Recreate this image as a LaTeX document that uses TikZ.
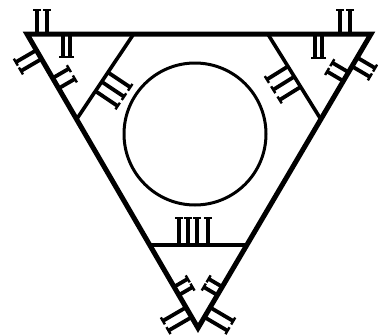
\documentclass[tikz,border=0pt]{standalone}
\usepackage{tikz}
\usetikzlibrary{calc,arrows.meta}

% a row of wedge strokes standing on the line from #1 to #2
\newcommand{\wedgerow}[5]{%
  \foreach \f in {#3}{%
    \coordinate (w) at ($(#1)!\f!(#2)$);
    \draw[wedge] (w) -- ($(w)!#5!#4:(#2)$);
  }}

\begin{document}
\begin{tikzpicture}[x=1pt, y=-1pt,
    rim/.style={line width=5pt, line join=miter},
    cut/.style={line width=3.6pt},
    wedge/.style={line width=3.8pt, -{Bar[width=8pt, line width=2.4pt]}}
]
\useasboundingbox (0,0) rectangle (378,335);

\coordinate (A) at (27,34);
\coordinate (B) at (371,34);
\coordinate (C) at (198,328);

\coordinate (P1) at ($(A)!0.31!(B)$);
\coordinate (Q1) at ($(A)!0.29!(C)$);
\coordinate (P2) at ($(B)!0.30!(A)$);
\coordinate (Q2) at ($(B)!0.29!(C)$);
\coordinate (R1) at ($(A)!0.718!(C)$);
\coordinate (R2) at ($(B)!0.718!(C)$);

\draw[rim] (A) -- (B) -- (C) -- cycle;
\draw[cut] (P1) -- (Q1);
\draw[cut] (P2) -- (Q2);
\draw[cut] (R1) -- (R2);
\draw[line width=3pt] (195,134) circle[radius=71];

% top left corner
\wedgerow{A}{B}{0.03,0.058}{90}{25pt}
\wedgerow{A}{B}{0.105,0.125}{-90}{24pt}
\wedgerow{A}{C}{0.055,0.085}{-90}{25pt}
\wedgerow{A}{C}{0.15,0.185}{90}{20pt}
\wedgerow{P1}{Q1}{0.45,0.56,0.67}{90}{28pt}

% top right corner
\wedgerow{B}{A}{0.061,0.09}{-90}{25pt}
\wedgerow{B}{A}{0.142,0.163}{90}{25pt}
\wedgerow{B}{C}{0.08,0.11}{90}{22pt}
\wedgerow{B}{C}{0.13,0.16}{-90}{20pt}
\wedgerow{P2}{Q2}{0.38,0.5,0.62}{-90}{26pt}

% bottom corner
\wedgerow{R1}{R2}{0.30,0.39,0.49,0.60}{90}{28pt}
\wedgerow{A}{C}{0.86,0.888}{90}{17pt}
\wedgerow{B}{C}{0.86,0.888}{-90}{17pt}
\wedgerow{A}{C}{0.93,0.963}{-90}{28pt}
\wedgerow{B}{C}{0.93,0.963}{90}{28pt}
\end{tikzpicture}
\end{document}
